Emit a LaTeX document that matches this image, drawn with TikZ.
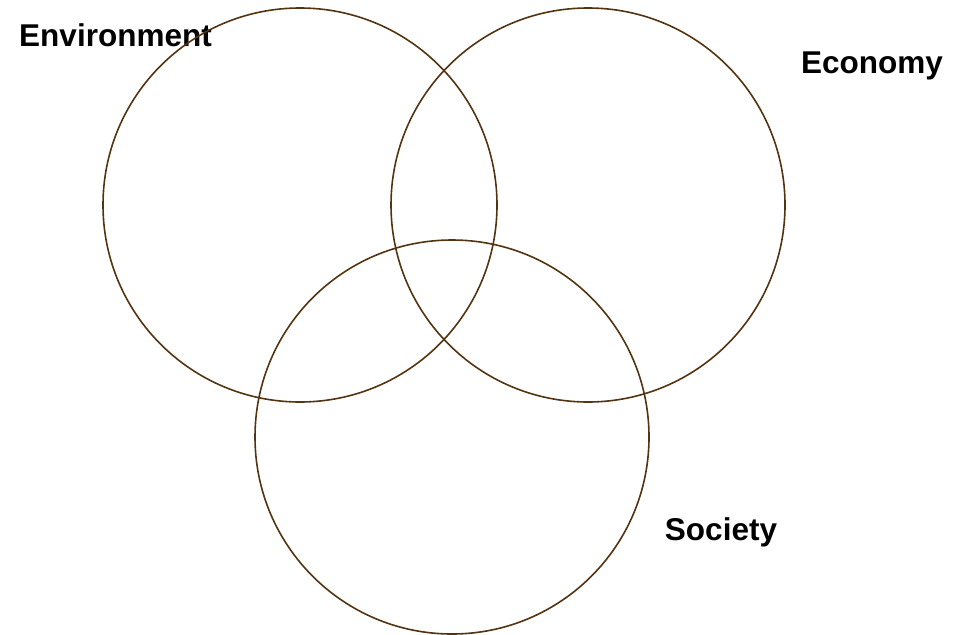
\documentclass[tikz,border=0pt]{standalone}
\usepackage{fontspec}
\setmainfont{Liberation Sans}
\definecolor{ringcol}{RGB}{84,52,16}
\begin{document}
\begin{tikzpicture}[x=1pt,y=-1pt,
  ring/.style={draw=ringcol,line width=1.6pt},
  lbl/.style={anchor=base,inner sep=0pt,font=\fontsize{31.5}{36}\selectfont\bfseries}]
\useasboundingbox (0,0) rectangle (957,634);
\node[lbl] (env) at (115.5,47) {Environment};
\node[lbl] (eco) at (872,73) {Economy};
\node[lbl] (soc) at (721,540) {Society};
\node[ring,circle,minimum size=394pt,inner sep=0pt] (c1) at (300,205) {};
\node[ring,circle,minimum size=394pt,inner sep=0pt] (c2) at (588,205) {};
\node[ring,circle,minimum size=394pt,inner sep=0pt] (c3) at (452,437) {};
\end{tikzpicture}
\end{document}
